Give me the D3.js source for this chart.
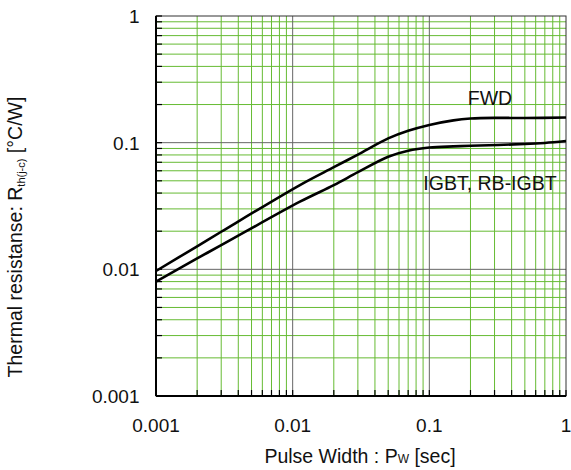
<!DOCTYPE html>
<html><head><meta charset="utf-8">
<script src="https://cdn.jsdelivr.net/npm/d3@7"></script>
<style>
html,body{margin:0;padding:0;background:#fff;}
svg{display:block;font-family:"Liberation Sans",Arial,sans-serif;}
</style></head>
<body>
<svg id="c" width="571" height="470"></svg>
<script>
// Data
const fwdPulse = [0.001, 0.002, 0.003, 0.0113, 0.02, 0.03, 0.05, 0.07, 0.1, 0.15, 0.2, 0.3, 0.5, 1];
const fwdRth   = [0.0097, 0.0152, 0.0198, 0.0463, 0.064, 0.0805, 0.108, 0.124, 0.138, 0.150, 0.155, 0.157, 0.1565, 0.158];
const igbtPulse = [0.001, 0.002, 0.003, 0.0113, 0.02, 0.03, 0.05, 0.07, 0.1, 0.15, 0.2, 0.5, 0.7, 1];
const igbtRth   = [0.0080, 0.0122, 0.0155, 0.0342, 0.0462, 0.0585, 0.0775, 0.0865, 0.0915, 0.0935, 0.0945, 0.0975, 0.0995, 0.103];
const xTickLabels = ["0.001", "0.01", "0.1", "1"];
const yTickLabels = ["0.001", "0.01", "0.1", "1"];
const seriesLabels = ["FWD", "IGBT, RB-IGBT"];

const svg = d3.select("#c");
const L = 156, R = 566, T = 16, B = 396;
const x = d3.scaleLog().domain([0.001, 1]).range([L, R]);
const y = d3.scaleLog().domain([0.001, 1]).range([B, T]);

const minorVals = [];
for (let d = -3; d < 0; d++) for (let m = 2; m <= 9; m++) minorVals.push(m * Math.pow(10, d));
const majorVals = xTickLabels.map(Number);

const grid = svg.append("g");
grid.selectAll(".vx").data(minorVals).join("line")
  .attr("x1", d => x(d)).attr("x2", d => x(d)).attr("y1", T).attr("y2", B)
  .attr("stroke", "#66bb33").attr("stroke-width", 1);
grid.selectAll(".hy").data(minorVals).join("line")
  .attr("y1", d => y(d)).attr("y2", d => y(d)).attr("x1", L).attr("x2", R)
  .attr("stroke", "#66bb33").attr("stroke-width", 1);
grid.selectAll(".vm").data(majorVals.slice(1, 3)).join("line")
  .attr("x1", d => x(d)).attr("x2", d => x(d)).attr("y1", T).attr("y2", B)
  .attr("stroke", "#666").attr("stroke-width", 1);
grid.selectAll(".hm").data(majorVals.slice(1, 3)).join("line")
  .attr("y1", d => y(d)).attr("y2", d => y(d)).attr("x1", L).attr("x2", R)
  .attr("stroke", "#666").attr("stroke-width", 1);

svg.append("rect").attr("x", L).attr("y", T).attr("width", R - L).attr("height", B - T)
  .attr("fill", "none").attr("stroke", "#333").attr("stroke-width", 1);
svg.append("line").attr("x1", L).attr("x2", L).attr("y1", T).attr("y2", B).attr("stroke", "#000").attr("stroke-width", 2);
svg.append("line").attr("x1", L).attr("x2", R).attr("y1", B).attr("y2", B).attr("stroke", "#000").attr("stroke-width", 2);

const allTicks = minorVals.concat(majorVals);
svg.append("g").selectAll("line").data(allTicks).join("line")
  .attr("x1", L).attr("x2", L + 6).attr("y1", d => y(d)).attr("y2", d => y(d))
  .attr("stroke", "#000").attr("stroke-width", 1.2);
svg.append("g").selectAll("line").data(allTicks).join("line")
  .attr("y1", B).attr("y2", B - 6).attr("x1", d => x(d)).attr("x2", d => x(d))
  .attr("stroke", "#000").attr("stroke-width", 1.2);

svg.append("g").selectAll("text").data(yTickLabels).join("text")
  .attr("x", 139.5).attr("y", d => y(+d)).attr("dy", "0.36em")
  .attr("text-anchor", "end").attr("font-size", 19).attr("fill", "#111").text(d => d);
svg.append("g").selectAll("text").data(xTickLabels).join("text")
  .attr("x", d => x(+d)).attr("y", 432)
  .attr("text-anchor", "middle").attr("font-size", 19).attr("fill", "#111").text(d => d);

const xt = svg.append("text").attr("x", 360).attr("y", 462.7).attr("text-anchor", "middle")
  .attr("font-size", 19.5).attr("fill", "#111");
xt.append("tspan").text("Pulse Width : P");
xt.append("tspan").attr("font-size", 12).text("W");
xt.append("tspan").text(" [sec]");

const yt = svg.append("text").attr("transform", "translate(22.3,237) rotate(-90)")
  .attr("text-anchor", "middle").attr("font-size", 19.5).attr("fill", "#111");
yt.append("tspan").text("Thermal resistanse: R");
yt.append("tspan").attr("font-size", 11).attr("dy", 3).text("th(j-c)");
yt.append("tspan").attr("dy", -3).text(" [°C/W]");

const line = d3.line().x(d => x(d[0])).y(d => y(d[1])).curve(d3.curveCatmullRom.alpha(0.5));
const fwd = fwdPulse.map((p, i) => [p, fwdRth[i]]);
const igbt = igbtPulse.map((p, i) => [p, igbtRth[i]]);
svg.append("path").datum(fwd).attr("d", line).attr("fill", "none").attr("stroke", "#000").attr("stroke-width", 2.6);
svg.append("path").datum(igbt).attr("d", line).attr("fill", "none").attr("stroke", "#000").attr("stroke-width", 2.6);

svg.append("text").attr("x", 490).attr("y", 105).attr("text-anchor", "middle")
  .attr("font-size", 19.5).attr("fill", "#111").text(seriesLabels[0]);
svg.append("text").attr("x", 490).attr("y", 190).attr("text-anchor", "middle")
  .attr("font-size", 19.5).attr("fill", "#111").text(seriesLabels[1]);
</script>
</body></html>
